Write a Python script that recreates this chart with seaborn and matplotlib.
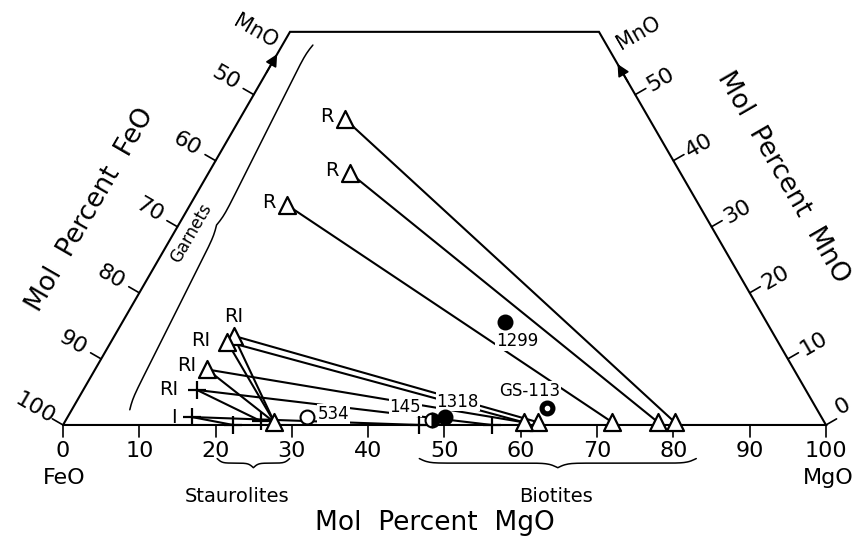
import numpy as np
import pandas as pd
import seaborn as sns
import matplotlib.pyplot as plt

# mol percent MgO / MnO of each analysis (FeO is the rest)
# R garnets and their biotites
r_gt_mgo = [13.8, 18.6, 12.7]
r_gt_mno = [46.3, 38.1, 33.3]
r_bt_mgo = [80.0, 77.8, 71.8]
r_bt_mno = [0.4, 0.4, 0.4]

# RI garnets (triangles) with staurolite and biotite
ri_gt_mgo = [15.6, 15.2, 14.7]
ri_gt_mno = [13.5, 12.6, 8.4]
ri_st_mgo = [27.5, 27.5, 27.5]
ri_st_mno = [0.4, 0.4, 0.4]
ri_bt_mgo = [62.1, 60.2, 60.2]
ri_bt_mno = [0.4, 0.4, 0.4]

# RI and I garnets (crosses) with staurolite and biotite
cx_names = ['RI', 'I']
cx_gt_mgo = [14.9, 16.3]
cx_gt_mno = [5.3, 1.2]
cx_st_mgo = [25.6, 22.3]
cx_st_mno = [0.6, 0.0]
cx_bt_mgo = [56.2, 46.7]
cx_bt_mno = [0.0, 0.0]

# bulk analyses
rock_names = ['534', '145', '1318', '1299', 'GS-113']
rock_mgo = [31.3, 47.9, 49.5, 50.1, 62.1]
rock_mno = [1.25, 0.8, 1.2, 15.6, 2.6]

mgo_ticks = [0, 10, 20, 30, 40, 50, 60, 70, 80, 90, 100]
feo_ticks = [100, 90, 80, 70, 60, 50]
mno_ticks = [0, 10, 20, 30, 40, 50]
mno_top = 59.5

SQ = np.sqrt(3) / 2


def tern(mgo, mno):
    mgo = np.asarray(mgo, dtype=float)
    mno = np.asarray(mno, dtype=float)
    return mgo + mno / 2, mno * SQ


def brace(ax, p0, p1, depth, steep=30):
    # curly brace from p0 to p1, bulging by depth along the normal
    p0, p1 = np.array(p0), np.array(p1)
    u = np.linspace(0, 0.5, 80)
    h = 1 / (1 + np.exp(-steep * (u - u[0]))) + 1 / (1 + np.exp(-steep * (u - u[-1])))
    h = np.concatenate([h, h[-2::-1]])
    h = (h - h.min()) / (h.max() - h.min())
    t = np.linspace(0, 1, len(h))
    d = p1 - p0
    n = np.array([-d[1], d[0]]) / np.hypot(*d)
    pts = p0[None, :] + t[:, None] * d[None, :] + (h * depth)[:, None] * n[None, :]
    ax.plot(pts[:, 0], pts[:, 1], color='black', lw=1.1)


# tie lines table
rows = []
k = 0
for i in range(3):
    for p in [(r_gt_mgo[i], r_gt_mno[i]), (r_bt_mgo[i], r_bt_mno[i])]:
        rows.append((k, *tern(*p)))
    k += 1
for i in range(3):
    g = (ri_gt_mgo[i], ri_gt_mno[i])
    for q in [(ri_st_mgo[i], ri_st_mno[i]), (ri_bt_mgo[i], ri_bt_mno[i])]:
        for p in (g, q):
            rows.append((k, *tern(*p)))
        k += 1
for i in range(2):
    g = (cx_gt_mgo[i], cx_gt_mno[i])
    for q in [(cx_st_mgo[i], cx_st_mno[i]), (cx_bt_mgo[i], cx_bt_mno[i])]:
        for p in (g, q):
            rows.append((k, *tern(*p)))
        k += 1
ties = pd.DataFrame(rows, columns=['tie', 'x', 'y'])

tri = pd.DataFrame({
    'mgo': r_gt_mgo + r_bt_mgo + ri_gt_mgo + ri_st_mgo[:1] + ri_bt_mgo[:2],
    'mno': r_gt_mno + r_bt_mno + ri_gt_mno + ri_st_mno[:1] + ri_bt_mno[:2],
})
tri['x'], tri['y'] = tern(tri['mgo'], tri['mno'])
crs = pd.DataFrame({'mgo': cx_gt_mgo + cx_st_mgo + cx_bt_mgo,
                    'mno': cx_gt_mno + cx_st_mno + cx_bt_mno})
crs['x'], crs['y'] = tern(crs['mgo'], crs['mno'])

sns.set_style('white')
plt.rcParams['font.family'] = ['DejaVu Sans']
plt.rcParams['text.color'] = 'black'

fig = plt.figure(figsize=(8.59, 5.37), dpi=100)
ax = fig.add_axes([0, 0, 1, 1])
ax.set_xlim(-8.26, 104.33)
ax.set_ylim(-14.68, 55.70)
ax.set_aspect('equal')
ax.axis('off')

# frame of the truncated triangle
fx, fy = tern([0, 0, 100 - mno_top, 100, 0], [0, mno_top, mno_top, 0, 0])
ax.plot(fx, fy, color='black', lw=1.5, solid_joinstyle='miter')

tl = 1.6
for v in mgo_ticks:
    x, y = tern(v, 0)
    ax.plot([x, x], [y, y - tl], color='black', lw=1.2)
    ax.text(x, y - 3.4, str(v), ha='center', va='center', fontsize=16)
nl = np.array([-SQ, 0.5])
for v in feo_ticks:
    x, y = tern(0, 100 - v)
    ax.plot([x, x + tl * nl[0]], [y, y + tl * nl[1]], color='black', lw=1.2)
    ax.text(x + 4.3 * nl[0], y + 4.3 * nl[1], str(v), ha='center', va='center',
            fontsize=16, rotation=-30)
nr = np.array([SQ, 0.5])
for v in mno_ticks:
    x, y = tern(100 - v, v)
    ax.plot([x, x + tl * nr[0]], [y, y + tl * nr[1]], color='black', lw=1.2)
    off = 3.9 if v else 2.6
    ax.text(x + off * nr[0], y + off * nr[1] + (1.2 if v == 0 else 0), str(v),
            ha='center', va='center', fontsize=16, rotation=30)

# arrows towards MnO
for a, b in [(tern(0, 53), tern(0, 56.5)), (tern(48.5, 51.5), tern(45, 55))]:
    ax.annotate('', xy=b, xytext=a,
                arrowprops=dict(arrowstyle='-|>', color='black', lw=1.2, mutation_scale=18))

# tie lines
sns.lineplot(data=ties, x='x', y='y', units='tie', estimator=None, sort=False,
             color='black', lw=1.5, ax=ax, legend=False)

sns.scatterplot(data=tri, x='x', y='y', marker='^', s=150, facecolor='white',
                edgecolor='black', linewidth=1.6, ax=ax, legend=False, zorder=4)
sns.scatterplot(data=crs, x='x', y='y', marker='+', s=150, color='black',
                linewidth=1.6, ax=ax, legend=False, zorder=4)

# bulk rocks
styles = {'534': dict(mfc='white'),
          '145': dict(mfc='black', fillstyle='right', markerfacecoloralt='white'),
          '1318': dict(mfc='black'), '1299': dict(mfc='black'), 'GS-113': dict(mfc='black')}
for name, m, n in zip(rock_names, rock_mgo, rock_mno):
    x, y = tern(m, n)
    ax.plot(x, y, 'o', ms=10, mec='black', mew=1.5, zorder=5, **styles[name])
    if name == 'GS-113':
        ax.plot(x, y, 'o', ms=3, mfc='white', mec='white', zorder=6)

rock_off = {'534': (8, 2, 'left'), '145': (-19, 9, 'center'), '1318': (9, 11, 'center'),
            '1299': (9, -14, 'center'), 'GS-113': (-12, 12, 'center')}
for name, m, n in zip(rock_names, rock_mgo, rock_mno):
    dx, dy, ha = rock_off[name]
    ax.annotate(name, tern(m, n), xytext=(dx, dy), textcoords='offset points',
                ha=ha, va='center', fontsize=12,
                bbox=dict(fc='white', ec='none', pad=0.5), zorder=3)

# sample labels
for m, n in zip(r_gt_mgo, r_gt_mno):
    ax.annotate('R', tern(m, n), xytext=(-13, 2), textcoords='offset points',
                ha='center', va='center', fontsize=14)
ri_off = [(0, 14), (-19, 1), (-15, 3)]
for (m, n), off in zip(zip(ri_gt_mgo, ri_gt_mno), ri_off):
    ax.annotate('RI', tern(m, n), xytext=off, textcoords='offset points',
                ha='center', va='center', fontsize=14)
cx_off = [(-20, 0), (-13, 0)]
for name, m, n, off in zip(cx_names, cx_gt_mgo, cx_gt_mno, cx_off):
    ax.annotate(name, tern(m, n), xytext=off, textcoords='offset points',
                ha='center', va='center', fontsize=14)

# braces and group names
brace(ax, tern(7.6, 2.3), tern(4.0, 57.5), 0.7, steep=70)
ax.text(*tern(2.3, 29.0), 'Garnets', rotation=60, ha='center', va='center', fontsize=12)
brace(ax, (20.2, -4.4), (29.7, -4.4), -1.2)
brace(ax, (46.7, -4.4), (83.0, -4.4), -1.2, steep=60)
ax.text(22.8, -9.4, 'Staurolites', ha='center', va='center', fontsize=14)
ax.text(64.6, -9.4, 'Biotites', ha='center', va='center', fontsize=14)

ax.text(0.1, -6.95, 'FeO', ha='center', va='center', fontsize=16)
ax.text(100.3, -6.95, 'MgO', ha='center', va='center', fontsize=16)
ax.text(48.75, -12.85, 'Mol  Percent  MgO', ha='center', va='center', fontsize=19)
ax.text(3.54, 28.2, 'Mol  Percent  FeO', ha='center', va='center', fontsize=19, rotation=60)
ax.text(94.4, 32.5, 'Mol  Percent  MnO', ha='center', va='center', fontsize=19, rotation=-60)
ax.text(25.2, 51.5, 'MnO', ha='center', va='center', fontsize=15, rotation=-30)
ax.text(75.4, 51.4, 'MnO', ha='center', va='center', fontsize=15, rotation=30)

fig.savefig('out.png', dpi=100)
